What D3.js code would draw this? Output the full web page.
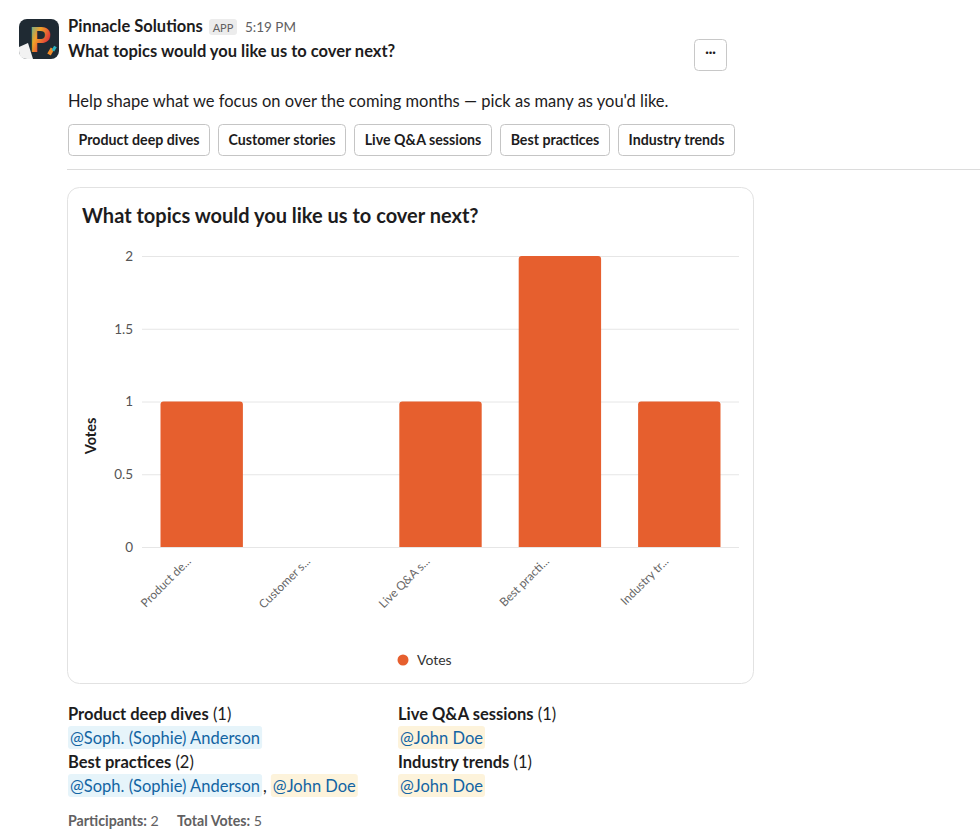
<!DOCTYPE html>
<html><head><meta charset="utf-8">
<script src="https://cdn.jsdelivr.net/npm/d3@7"></script>
<style>
html,body{margin:0;padding:0;background:#fff;}
svg{display:block;font-family:Lato,"Noto Sans",sans-serif;}
</style></head>
<body>
<svg id="c" width="980" height="836"></svg>
<script>
const appName = "Pinnacle Solutions";
const timeLabel = "5:19 PM";
const question = "What topics would you like us to cover next?";
const subtitle = "Help shape what we focus on over the coming months \u2014 pick as many as you'd like.";
const categories = ["Product deep dives","Customer stories","Live Q&A sessions","Best practices","Industry trends"];
const shortLabels = ["Product de...","Customer s...","Live Q&A s...","Best practi...","Industry tr..."];
const votes = [1,0,1,2,1];
const yTicks = [0,0.5,1,1.5,2];
const seriesName = "Votes";
const resultOptions = ["Product deep dives","Live Q&A sessions","Best practices","Industry trends"];
const resultCounts = [1,1,2,1];
const resultVoters = [["@Soph. (Sophie) Anderson"],["@John Doe"],["@Soph. (Sophie) Anderson","@John Doe"],["@John Doe"]];
const voterStyle = {"@Soph. (Sophie) Anderson":"blue","@John Doe":"yellow"};
const participants = 2;
const totalVotes = 5;

const BAR = "#E65F2E";
const svg = d3.select("#c");

// avatar
const defs = svg.append("defs");
const g1 = defs.append("linearGradient").attr("id","pg").attr("x1","0").attr("y1","0").attr("x2","1").attr("y2","1");
g1.append("stop").attr("offset","0").attr("stop-color","#2bb3c0");
g1.append("stop").attr("offset","0.4").attr("stop-color","#f2a028");
g1.append("stop").attr("offset","0.7").attr("stop-color","#e0403a");
g1.append("stop").attr("offset","1").attr("stop-color","#3a6fd0");
svg.append("rect").attr("x",19).attr("y",19).attr("width",40).attr("height",40).attr("rx",8).attr("fill","#1f2a33");
svg.append("text").attr("x",40).attr("y",52).attr("text-anchor","middle").attr("font-size",34).attr("font-weight",900).attr("fill","url(#pg)").text("P");
svg.append("path").attr("d","M19,47 L28,43 L33,59 L27,59 Q19,59 19,51 Z").attr("fill","#f2f2f2");
svg.append("rect").attr("x",49).attr("y",48).attr("width",4).attr("height",7).attr("fill","#f28c28").attr("transform","rotate(30,51,51)");
svg.append("rect").attr("x",53).attr("y",46).attr("width",3).attr("height",5).attr("fill","#2bb3c0").attr("transform","rotate(30,54,48)");

svg.append("text").attr("x",68).attr("y",32).attr("font-size",16.5).attr("font-weight",700).attr("fill","#1d1c1d").text(appName);
svg.append("rect").attr("x",209).attr("y",19).attr("width",28).attr("height",16).attr("rx",3).attr("fill","#ececec");
svg.append("text").attr("x",223).attr("y",31.5).attr("text-anchor","middle").attr("font-size",11).attr("fill","#616061").text("APP");
svg.append("text").attr("x",245).attr("y",32).attr("font-size",13.5).attr("fill","#616061").text(timeLabel);
svg.append("text").attr("x",68).attr("y",57).attr("font-size",16.5).attr("font-weight",700).attr("fill","#1d1c1d").text(question);

// ellipsis button
svg.append("rect").attr("x",694.5).attr("y",39.5).attr("width",32).attr("height",31).attr("rx",4).attr("fill","#fff").attr("stroke","#c8c8c8");
svg.append("text").attr("x",710.5).attr("y",57).attr("text-anchor","middle").attr("font-size",13).attr("font-weight",700).attr("fill","#1d1c1d").text("\u00b7\u00b7\u00b7");

svg.append("text").attr("x",68).attr("y",107).attr("font-size",16.5).attr("fill","#1d1c1d").text(subtitle);

// option buttons
let bx = 68;
categories.forEach(c => {
  const g = svg.append("g");
  const r = g.append("rect").attr("y",124.5).attr("height",31).attr("rx",4).attr("fill","#fff").attr("stroke","#c5c5c5");
  const t = g.append("text").attr("y",145).attr("font-size",14.2).attr("font-weight",700).attr("fill","#1d1c1d").text(c);
  const w = t.node().getComputedTextLength();
  const bw = Math.round(w + 20);
  r.attr("x",bx+0.5).attr("width",bw);
  t.attr("x",bx + bw/2 + 0.5).attr("text-anchor","middle");
  bx += bw + 9;
});

svg.append("line").attr("x1",67).attr("x2",980).attr("y1",169.5).attr("y2",169.5).attr("stroke","#dcdcdc");

// chart card
svg.append("rect").attr("x",67.5).attr("y",187.5).attr("width",686).attr("height",496).attr("rx",12).attr("fill","#fff").attr("stroke","#e2e2e2");
svg.append("text").attr("x",82).attr("y",223).attr("font-size",20).attr("font-weight",700).attr("fill","#1d1c1d").text(question);

const x = d3.scaleBand().domain(categories).range([142,739]).paddingInner(0.31).paddingOuter(0.155);
const y = d3.scaleLinear().domain([0,2]).range([547,256]);

const yAxis = svg.append("g").attr("transform","translate(142,0)")
  .call(d3.axisLeft(y).tickValues(yTicks).tickSize(-597).tickPadding(9).tickFormat(d3.format("~g")));
yAxis.select(".domain").remove();
yAxis.selectAll(".tick line").attr("stroke","#e6e6e6");
yAxis.selectAll(".tick text").attr("font-size",13.5).attr("fill","#555").attr("font-family","Lato");

svg.append("text").attr("transform","translate(96,436) rotate(-90)").attr("text-anchor","middle")
  .attr("font-size",14.5).attr("font-weight",700).attr("fill","#1d1c1d").text(seriesName);

const rr = 3;
svg.append("g").selectAll("path").data(categories.map((c,i)=>({c,v:votes[i]})).filter(d=>d.v>0)).join("path")
  .attr("fill",BAR)
  .attr("d", d => {
    const x0 = x(d.c), x1 = x0 + x.bandwidth(), y0 = y(0), y1 = y(d.v);
    return `M${x0},${y0}V${y1+rr}Q${x0},${y1} ${x0+rr},${y1}H${x1-rr}Q${x1},${y1} ${x1},${y1+rr}V${y0}Z`;
  });

const xAxis = svg.append("g").attr("transform","translate(0,547)")
  .call(d3.axisBottom(x).tickSize(0).tickFormat((d,i)=>shortLabels[i]));
xAxis.select(".domain").remove();
xAxis.selectAll(".tick text").attr("font-size",11.8).attr("fill","#666").attr("font-family","Lato")
  .attr("text-anchor","end").attr("dy",0).attr("y",0)
  .attr("transform","translate(-10,15) rotate(-45)");

// legend
svg.append("circle").attr("cx",403).attr("cy",660).attr("r",5.5).attr("fill",BAR);
svg.append("text").attr("x",417).attr("y",665).attr("font-size",14).attr("fill","#333").text(seriesName);

// results
const colX = [68,398];
const rowY = [720,768];
resultOptions.forEach((o,i) => {
  const cx = colX[i%2], ry = rowY[Math.floor(i/2)];
  const t = svg.append("text").attr("x",cx).attr("y",ry).attr("font-size",16.5).attr("fill","#1d1c1d");
  t.append("tspan").attr("font-weight",700).text(o);
  t.append("tspan").text(" (" + resultCounts[i] + ")");
  let mx = cx;
  resultVoters[i].forEach((v,j) => {
    if (j>0) {
      const cm = svg.append("text").attr("x",mx+1).attr("y",ry+24).attr("font-size",16.5).attr("fill","#1d1c1d").text(",");
      mx += cm.node().getComputedTextLength() + 5;
    }
    const bg = svg.append("rect").attr("y",ry+6).attr("height",23).attr("rx",3)
      .attr("fill", voterStyle[v]==="blue" ? "#e6f4fa" : "#fdf3db");
    const mt = svg.append("text").attr("x",mx+2).attr("y",ry+24).attr("font-size",16.5).attr("fill","#1264a3").text(v);
    const w = mt.node().getComputedTextLength();
    bg.attr("x",mx).attr("width",w+4);
    mx += w + 4;
  });
});

const ft = svg.append("text").attr("x",68).attr("y",826).attr("font-size",14.2).attr("fill","#616061");
ft.append("tspan").attr("font-weight",700).text("Participants:");
ft.append("tspan").text(" " + participants);
const ft2 = svg.append("text").attr("x",177).attr("y",826).attr("font-size",14.2).attr("fill","#616061");
ft2.append("tspan").attr("font-weight",700).text("Total Votes:");
ft2.append("tspan").text(" " + totalVotes);
</script>
</body></html>
